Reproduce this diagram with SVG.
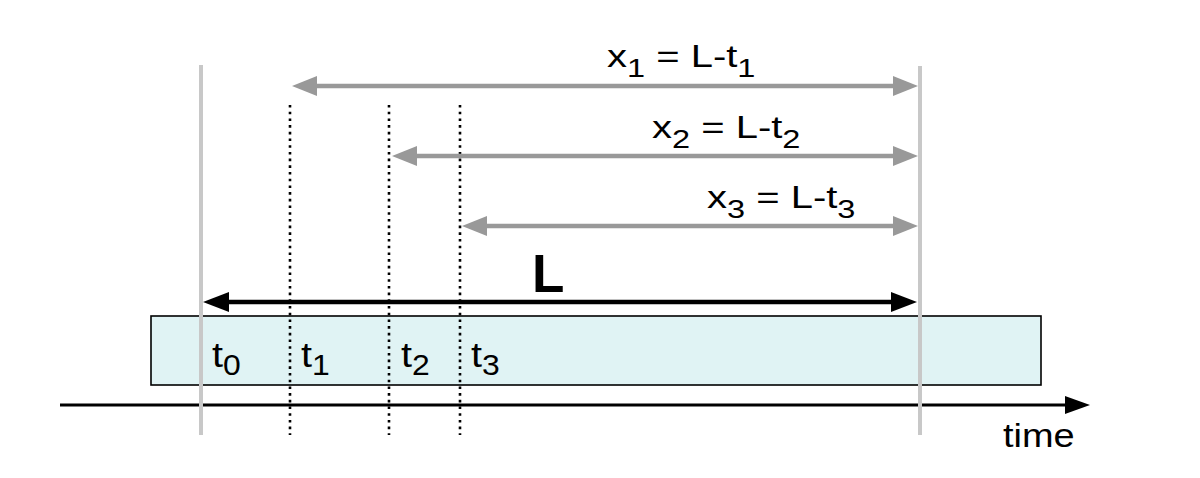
<svg xmlns="http://www.w3.org/2000/svg" width="1200" height="478" viewBox="0 0 1200 478">
<style>
  text { font-family: "Liberation Sans", Arial, sans-serif; fill: #000; white-space: pre; }
  .f { font-size: 32px; }
  .fs { font-size: 26px; }
  .t { font-size: 36px; }
  .ts { font-size: 29px; }
  .guide { stroke: #c8c8c8; stroke-width: 4; }
  .dot { stroke: #000; stroke-width: 2.6; stroke-dasharray: 2.6 4.1; }
  .garrow { stroke: #999; stroke-width: 4.5; marker-start: url(#ag); marker-end: url(#ag); }
</style>
<defs>
  <marker id="ag" viewBox="-3 -11 26 22" refX="0" refY="0" markerWidth="26" markerHeight="22" markerUnits="userSpaceOnUse" orient="auto-start-reverse">
    <path d="M-3,-10 L22,0 L-3,10 z" fill="#999"/>
  </marker>
  <marker id="ab" viewBox="-3 -11 27 22" refX="0" refY="0" markerWidth="27" markerHeight="22" markerUnits="userSpaceOnUse" orient="auto-start-reverse">
    <path d="M-3,-10 L23,0 L-3,10 z" fill="#000"/>
  </marker>
  <marker id="at" viewBox="-3 -10 26 20" refX="0" refY="0" markerWidth="26" markerHeight="20" markerUnits="userSpaceOnUse" orient="auto">
    <path d="M-3,-9 L22,0 L-3,9 z" fill="#000"/>
  </marker>
</defs>
<rect width="1200" height="478" fill="#fff"/>

<g id="bar">
  <rect x="151" y="316" width="890" height="69" fill="#e0f3f4" stroke="#000" stroke-width="1.6"/>
</g>

<g id="time-axis">
  <line x1="60" y1="405" x2="1068" y2="405" stroke="#000" stroke-width="3" marker-end="url(#at)"/>
  <text class="f" transform="translate(1003,447) scale(1.15,1)" style="font-size:33px">time</text>
</g>

<g id="guides">
  <line class="guide" x1="201" y1="65" x2="201" y2="435"/>
  <line class="guide" x1="920" y1="66" x2="920" y2="435"/>
  <line class="dot" x1="290" y1="105" x2="290" y2="435"/>
  <line class="dot" x1="389" y1="105" x2="389" y2="435"/>
  <line class="dot" x1="460" y1="105" x2="460" y2="435"/>
</g>

<g id="connectors">
  <line class="garrow" x1="314" y1="86" x2="896" y2="86"/>
  <line class="garrow" x1="414" y1="156" x2="896" y2="156"/>
  <line class="garrow" x1="484" y1="226" x2="896" y2="226"/>
  <line x1="226" y1="302" x2="894" y2="302" stroke="#000" stroke-width="4.5" marker-start="url(#ab)" marker-end="url(#ab)"/>
</g>

<g id="label-x1">
  <text class="f" transform="translate(607,67) scale(1.25,1)">x<tspan class="fs" dy="10">1</tspan><tspan dy="-10"> = L-t</tspan><tspan class="fs" dy="10">1</tspan></text>
</g>
<g id="label-x2">
  <text class="f" transform="translate(652,138) scale(1.25,1)">x<tspan class="fs" dy="10">2</tspan><tspan dy="-10"> = L-t</tspan><tspan class="fs" dy="10">2</tspan></text>
</g>
<g id="label-x3">
  <text class="f" transform="translate(707,208) scale(1.25,1)">x<tspan class="fs" dy="10">3</tspan><tspan dy="-10"> = L-t</tspan><tspan class="fs" dy="10">3</tspan></text>
</g>
<g id="label-L">
  <text x="532" y="292" style="font-size:53px;font-weight:bold">L</text>
</g>

<g id="t-labels">
  <text class="t" transform="translate(212,367) scale(1.1,1)">t<tspan class="ts" dy="8">0</tspan></text>
  <text class="t" transform="translate(301,367) scale(1.1,1)">t<tspan class="ts" dy="8">1</tspan></text>
  <text class="t" transform="translate(401,367) scale(1.1,1)">t<tspan class="ts" dy="8">2</tspan></text>
  <text class="t" transform="translate(471,367) scale(1.1,1)">t<tspan class="ts" dy="8">3</tspan></text>
</g>
</svg>
